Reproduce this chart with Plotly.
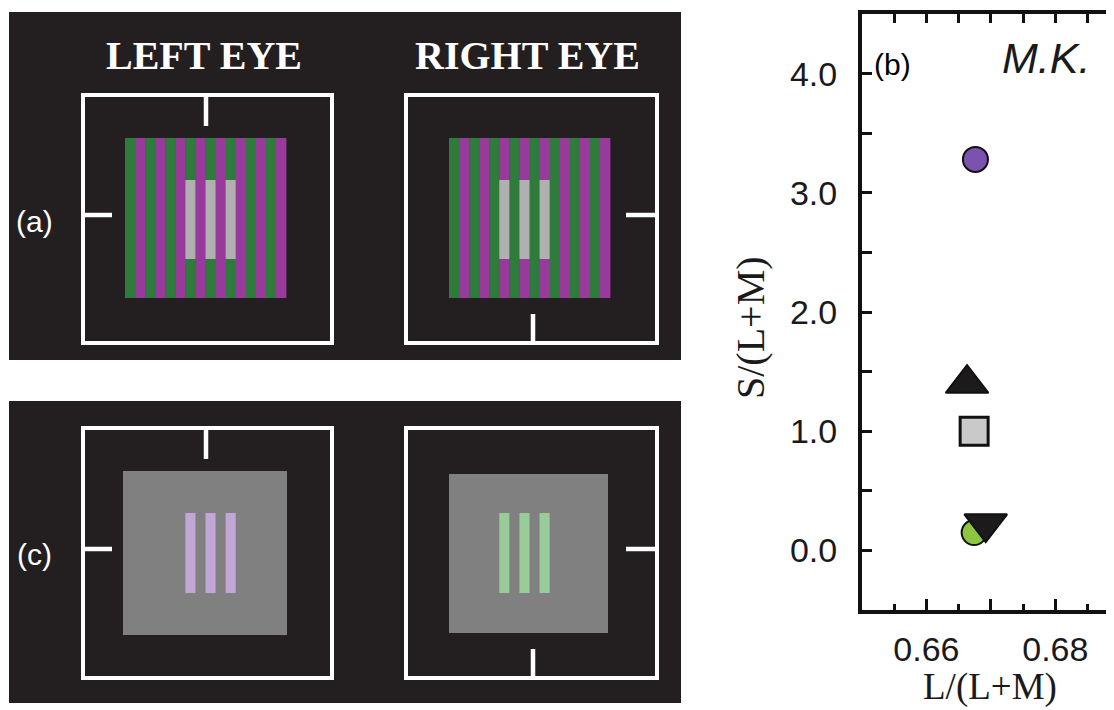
import plotly.graph_objects as go

# ---------------- panel (b) data ----------------
point_names = ["S-cone", "dark", "achromatic", "L-M", "dark (down)"]
lum_ratio = [0.6676, 0.6663, 0.6674, 0.6674, 0.6692]      # L/(L+M)
s_ratio = [3.28, 1.40, 1.00, 0.15, 0.225]                  # S/(L+M)
marker_symbols = ["circle", "triangle-up", "square", "circle", "triangle-down"]
marker_fills = ["#7b52ad", "#1c1a1b", "#c9c9c9", "#8cc63f", "#1c1a1b"]
marker_sizes = [25, 37, 28, 25, 37]
marker_line_widths = [2, 2, 3, 2, 2]

x_range = [0.65, 0.6891]
y_range = [-0.5, 4.5]
x_major = [0.66, 0.67, 0.68]
x_major_text = ["0.66", "", "0.68"]
x_minor = [0.655, 0.665, 0.675, 0.685]
y_major = [0, 1, 2, 3, 4]
y_major_text = ["0.0", "1.0", "2.0", "3.0", "4.0"]
y_minor = [0.5, 1.5, 2.5, 3.5]

# ---------------- stimulus schematic (screen-pixel canvas) ----------------
SCREEN_W, SCREEN_H = 1114, 710
PAGE_MARGIN = 8                      # default page margin around the figure
W, H = SCREEN_W - PAGE_MARGIN, SCREEN_H - PAGE_MARGIN

panel_x = [9, 681]
panel_a_y = [12, 360]
panel_c_y = [401, 703]
frame_x_left = [83, 332]
frame_x_right = [406, 657]
frame_y_a = [95, 343]
frame_y_c = [428, 678]
grating_x0 = [125, 449]          # left eye, right eye
grating_width = 161
grating_y = [138, 298]
n_stripes = 16
stripe_colors = ["#2f7b3b", "#983a9c"]
bar_idx_left = [6, 8, 10]
bar_idx_right = [5, 7, 9]
bar_y_a = [180, 259]
bar_y_c = [513, 593]
gray_sq_left = [123, 287, 471, 635]
gray_sq_right = [449, 608, 474, 633]
bar_gray = "#b0b0b0"
bar_lavender = "#c2a6d6"
bar_lightgreen = "#99cc99"
bg_dark = "#231f20"
surround_gray = "#808080"

shapes = []


def rect(x0, x1, y0, y1, fill, line_color=None, lw=0):
    shapes.append(dict(type="rect", xref="x", yref="y", x0=x0, x1=x1, y0=y0, y1=y1,
                       fillcolor=fill, layer="above",
                       line=dict(width=lw, color=line_color or fill)))


def seg(x0, y0, x1, y1, lw=4.5, color="white"):
    shapes.append(dict(type="line", xref="x", yref="y", x0=x0, x1=x1, y0=y0, y1=y1,
                       layer="above", line=dict(width=lw, color=color)))


# panel backgrounds
rect(panel_x[0], panel_x[1], panel_a_y[0], panel_a_y[1], bg_dark)
rect(panel_x[0], panel_x[1], panel_c_y[0], panel_c_y[1], bg_dark)

sw = grating_width / n_stripes
# panel (a) gratings
for eye, bars in zip(range(2), [bar_idx_left, bar_idx_right]):
    x0 = grating_x0[eye]
    for i in range(n_stripes):
        rect(x0 + i * sw, x0 + (i + 1) * sw + 0.4, grating_y[0], grating_y[1], stripe_colors[i % 2])
    for b in bars:
        rect(x0 + b * sw, x0 + (b + 1) * sw, bar_y_a[0], bar_y_a[1], bar_gray)

# panel (c) gray squares and bars
rect(*gray_sq_left, surround_gray)
rect(*gray_sq_right, surround_gray)
for b in bar_idx_left:
    rect(grating_x0[0] + b * sw, grating_x0[0] + (b + 1) * sw, bar_y_c[0], bar_y_c[1], bar_lavender)
for b in bar_idx_right:
    rect(grating_x0[1] + b * sw, grating_x0[1] + (b + 1) * sw, bar_y_c[0], bar_y_c[1], bar_lightgreen)

# frames
for fy in [frame_y_a, frame_y_c]:
    for fx in [frame_x_left, frame_x_right]:
        rect(fx[0], fx[1], fy[0], fy[1], "rgba(0,0,0,0)", "white", 4)

# nonius lines
for fy in [frame_y_a, frame_y_c]:
    mid = (fy[0] + fy[1]) / 2 - 4
    seg(206, fy[0], 206, fy[0] + 31)                       # left eye top
    seg(frame_x_left[0], mid, frame_x_left[0] + 29, mid)    # left eye left
    seg(frame_x_right[1] - 31, mid, frame_x_right[1], mid)  # right eye right
    seg(533, fy[1] - 29, 533, fy[1])                       # right eye bottom

sans = "Liberation Sans, Arial, Helvetica, sans-serif"
serif = "Liberation Serif, Times New Roman, serif"

annotations = [
    dict(x=204, y=55, text="<b>LEFT EYE</b>", font=dict(family=serif, size=40, color="white")),
    dict(x=527, y=55, text="<b>RIGHT EYE</b>", font=dict(family=serif, size=40, color="white")),
    dict(x=34, y=221, text="(a)", font=dict(family=sans, size=30, color="white")),
    dict(x=34, y=554, text="(c)", font=dict(family=sans, size=30, color="white")),
    dict(x=872, y=64, text="(b)", xanchor="left", font=dict(family=sans, size=30, color="black")),
    dict(x=1046, y=58, text="<i>M.K.</i>", font=dict(family=sans, size=43, color="#1a1a1a")),
    dict(x=750, y=328, text="S/(L+M)", textangle=-90, font=dict(family=serif, size=40, color="#1a1a1a")),
    dict(x=990, y=710, text="L/(L+M)", yanchor="bottom", font=dict(family=serif, size=37, color="#1a1a1a")),
]
for a in annotations:
    a.update(xref="x", yref="y", showarrow=False)
    a.setdefault("xanchor", "center")
    a.setdefault("yanchor", "middle")

fig = go.Figure()
# canvas subplot (screen-pixel coordinates) for the schematic
fig.add_trace(go.Scatter(x=[], y=[], xaxis="x", yaxis="y", showlegend=False, hoverinfo="skip"))
# data points
fig.add_trace(go.Scatter(
    x=lum_ratio, y=s_ratio, xaxis="x2", yaxis="y2", mode="markers", text=point_names,
    marker=dict(symbol=marker_symbols, color=marker_fills, size=marker_sizes, opacity=1,
                line=dict(color="#111111", width=marker_line_widths)),
    showlegend=False, cliponaxis=False))
# helper axes for the top and right tick marks
fig.add_trace(go.Scatter(x=[], y=[], xaxis="x2", yaxis="y3", showlegend=False, hoverinfo="skip"))
fig.add_trace(go.Scatter(x=[], y=[], xaxis="x3", yaxis="y2", showlegend=False, hoverinfo="skip"))


def px_x(v):
    return (v - PAGE_MARGIN) / W


def px_y(v):
    return 1 - (v - PAGE_MARGIN) / H


plot_dom_x = [px_x(862), 1.0]
plot_dom_y = [px_y(610), px_y(14)]
axis_font = dict(family=sans, size=34, color="#1a1a1a")
ink = "#111111"

fig.update_layout(
    width=W, height=H, margin=dict(l=0, r=0, t=0, b=0),
    paper_bgcolor="white", plot_bgcolor="rgba(0,0,0,0)",
    shapes=shapes, annotations=annotations,
    xaxis=dict(domain=[0, 1], range=[PAGE_MARGIN, SCREEN_W], visible=False, fixedrange=True),
    yaxis=dict(domain=[0, 1], range=[SCREEN_H, PAGE_MARGIN], visible=False, fixedrange=True),
    xaxis2=dict(domain=plot_dom_x, range=x_range, anchor="y2",
                showline=True, linewidth=4, linecolor=ink, mirror=True,
                ticks="inside", ticklen=11, tickwidth=3, tickcolor=ink,
                tickvals=x_major, ticktext=x_major_text, tickfont=axis_font,
                minor=dict(tickvals=x_minor, ticks="inside", ticklen=6, tickwidth=3, tickcolor=ink),
                showgrid=False, zeroline=False, ticklabelstandoff=6),
    xaxis3=dict(overlaying="x2", anchor="y2", side="top", range=x_range,
                showline=False, ticks="inside", ticklen=9, tickwidth=3, tickcolor=ink,
                tickvals=x_major + x_minor, showticklabels=False,
                showgrid=False, zeroline=False),
    yaxis2=dict(domain=plot_dom_y, range=y_range, anchor="x2",
                showline=True, linewidth=4, linecolor=ink, mirror=False,
                ticks="inside", ticklen=10, tickwidth=3, tickcolor=ink,
                tickvals=y_major, ticktext=y_major_text, tickfont=axis_font,
                minor=dict(tickvals=y_minor, ticks="inside", ticklen=10, tickwidth=3, tickcolor=ink),
                showgrid=False, zeroline=False, ticklabelstandoff=14),
    yaxis3=dict(overlaying="y2", anchor="x2", side="right", range=y_range,
                showline=False, ticks="inside", ticklen=4, tickwidth=3, tickcolor=ink,
                tickvals=y_major + y_minor, showticklabels=False,
                showgrid=False, zeroline=False),
)

fig.write_html("out.html")
